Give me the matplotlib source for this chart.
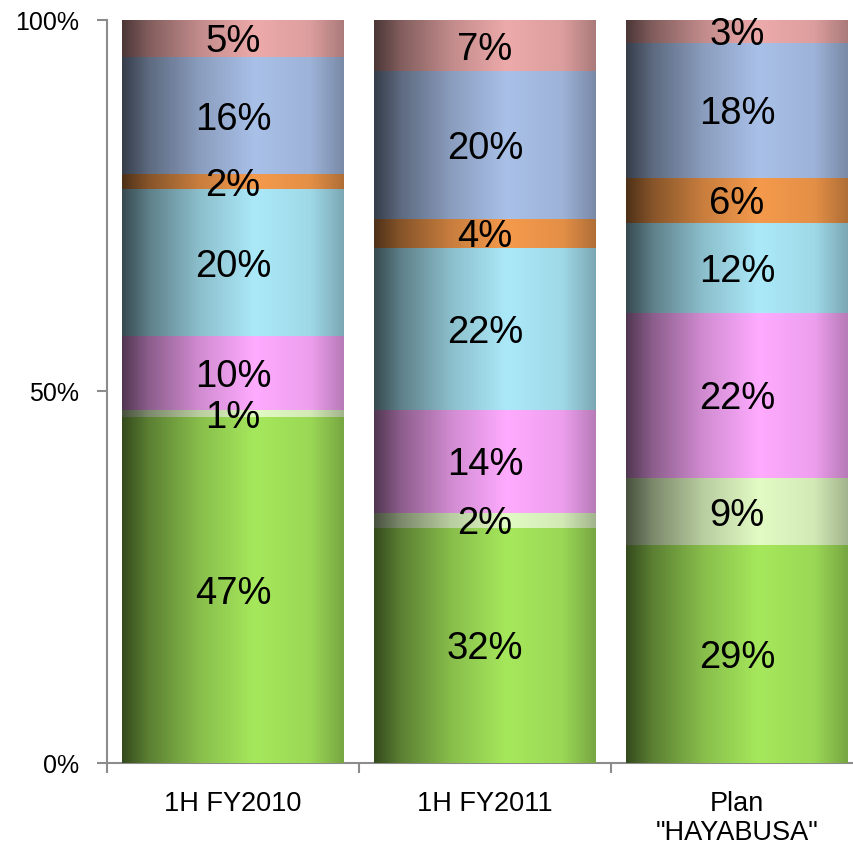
import numpy as np
import matplotlib
matplotlib.use("Agg")
import matplotlib.pyplot as plt
from matplotlib.colors import to_rgb

categories = ["1H FY2010", "1H FY2011", "Plan\n\"HAYABUSA\""]

# segment shares per period, listed bottom to top
seg_green = [47, 32, 29]
seg_lightgreen = [1, 2, 9]
seg_pink = [10, 14, 22]
seg_cyan = [20, 22, 12]
seg_orange = [2, 4, 6]
seg_blue = [16, 20, 18]
seg_rose = [5, 7, 3]

series = [seg_green, seg_lightgreen, seg_pink, seg_cyan, seg_orange, seg_blue, seg_rose]
colors = ["#A6E85C", "#E2FBC4", "#FFABFF", "#ABE9F9", "#F59A4C", "#A9C0E8", "#EDAAAA"]

plt.rcParams["font.family"] = ["Liberation Sans", "DejaVu Sans"]

fig = plt.figure(figsize=(8.54, 8.46), dpi=100)
ax = fig.add_axes([107 / 854, 83 / 846, 756 / 854, 743 / 846])

data = np.array(series, dtype=float)
totals = data.sum(axis=0)
shares = data / totals * 100.0

x = np.arange(len(categories))
width = 0.877

# horizontal shading profile: dark on the left, brightest past the middle
u = np.linspace(0, 1, 200)
shade = np.interp(u, [0.0, 0.12, 0.35, 0.6, 0.85, 1.0], [0.32, 0.55, 0.82, 1.0, 0.93, 0.72])

bottoms = np.zeros(len(categories))
for vals, h, col in zip(series, shares, colors):
    bars = ax.bar(x, h, width=width, bottom=bottoms, color=col, linewidth=0, zorder=2)
    base = np.array(to_rgb(col))
    grad = np.clip(base[None, :] * shade[:, None], 0, 1)
    img = grad[None, :, :]
    for patch, v in zip(bars.patches, vals):
        x0, y0 = patch.get_x(), patch.get_y()
        w, hh = patch.get_width(), patch.get_height()
        im = ax.imshow(img, extent=[x0, x0 + w, y0, y0 + hh], aspect="auto",
                       interpolation="bilinear", zorder=3)
        im.set_clip_path(patch)
        ax.text(x0 + w / 2, y0 + hh / 2, f"{v}%", ha="center", va="center_baseline",
                fontsize=27.5, color="black", zorder=5)
    bottoms += h

ax.set_xlim(-0.5, len(categories) - 0.5)
ax.set_ylim(0, 100)
ax.set_aspect("auto")

ax.set_yticks([0, 50, 100])
ax.set_yticklabels(["0%", "50%", "100%"], fontsize=18)
ax.set_xticks(x)
ax.set_xticklabels(categories, fontsize=19.5, linespacing=1.15)
ax.tick_params(axis="x", length=0, pad=20)
ax.set_xticks(np.arange(len(categories) + 1) - 0.5, minor=True)
ax.tick_params(axis="x", which="minor", length=7, color="#8c8c8c", width=1.5)
ax.tick_params(axis="y", length=7, color="#8c8c8c", width=1.5, pad=13)

for s in ["top", "right"]:
    ax.spines[s].set_visible(False)
for s in ["left", "bottom"]:
    ax.spines[s].set_color("#8c8c8c")
    ax.spines[s].set_linewidth(1.5)

fig.savefig("out.png", dpi=100)
